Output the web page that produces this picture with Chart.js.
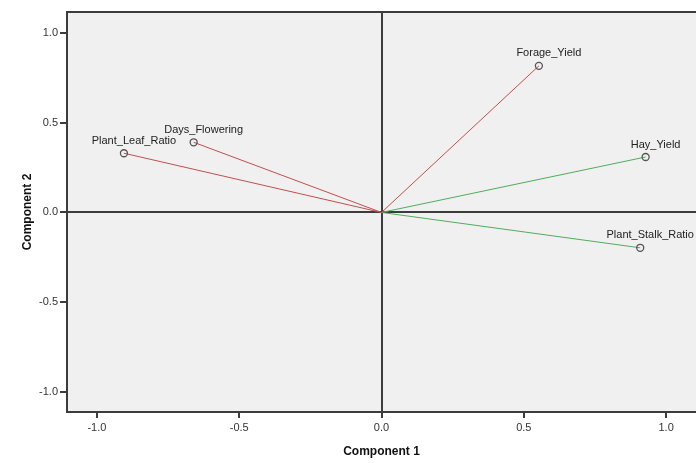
<!DOCTYPE html>
<html>
<head>
<meta charset="utf-8">
<script src="https://cdn.jsdelivr.net/npm/chart.js@4"></script>
<style>
  html, body { margin: 0; padding: 0; background: #fff; }
  #wrap { width: 696px; height: 463px; position: relative; }
</style>
</head>
<body>
<div id="wrap"><canvas id="chart"></canvas></div>
<script>
// loadings
const variables = ['Forage_Yield', 'Hay_Yield', 'Plant_Stalk_Ratio', 'Days_Flowering', 'Plant_Leaf_Ratio'];
const comp1 = [0.553, 0.928, 0.909, -0.660, -0.905];
const comp2 = [0.817, 0.309, -0.197, 0.391, 0.330];
const groups = ['red', 'green', 'green', 'red', 'red'];
const tickValues = [-1.0, -0.5, 0.0, 0.5, 1.0];

const lineColors = { red: '#c0504d', green: '#4fae5c' };
const axisColor = '#3c3c3c';

const datasets = variables.map((name, i) => ({
  label: name,
  data: [{ x: 0, y: 0 }, { x: comp1[i], y: comp2[i] }],
  showLine: true,
  borderColor: lineColors[groups[i]],
  borderWidth: 1,
  pointRadius: [0, 3.5],
  pointBorderColor: '#555',
  pointBorderWidth: 1.3,
  pointBackgroundColor: 'rgba(0,0,0,0)',
}));

// grey plot background and the frame round it
const plotFrame = {
  id: 'plotFrame',
  beforeDraw(chart) {
    const { ctx, chartArea: a } = chart;
    ctx.save();
    ctx.fillStyle = '#f0f0f0';
    ctx.fillRect(a.left, a.top, a.right - a.left, a.bottom - a.top);
    ctx.restore();
  },
  afterDraw(chart) {
    const { ctx, chartArea: a } = chart;
    ctx.save();
    ctx.strokeStyle = axisColor;
    ctx.lineWidth = 2;
    ctx.beginPath();
    ctx.moveTo(a.right, a.top);
    ctx.lineTo(a.left, a.top);
    ctx.lineTo(a.left, a.bottom);
    ctx.lineTo(a.right, a.bottom);
    ctx.stroke();
    ctx.restore();
  },
};

// variable names above each point
const pointLabels = {
  id: 'pointLabels',
  afterDatasetsDraw(chart) {
    const { ctx } = chart;
    ctx.save();
    ctx.font = '11px "Liberation Sans", Arial, sans-serif';
    ctx.fillStyle = '#222';
    ctx.textAlign = 'center';
    ctx.textBaseline = 'bottom';
    chart.data.datasets.forEach((ds, i) => {
      const pt = chart.getDatasetMeta(i).data[1];
      ctx.fillText(ds.label, pt.x + 10, pt.y - 7);
    });
    ctx.restore();
  },
};

const zeroLine = (c) => (c.tick && c.tick.value === 0 ? axisColor : 'rgba(0,0,0,0)');
const tickFont = { family: '"Liberation Sans", Arial, sans-serif', size: 11 };
const titleFont = { family: '"Liberation Sans", Arial, sans-serif', size: 12, weight: 'bold' };

new Chart(document.getElementById('chart'), {
  type: 'scatter',
  data: { datasets },
  plugins: [plotFrame, pointLabels],
  options: {
    responsive: true,
    maintainAspectRatio: false,
    animation: false,
    layout: { autoPadding: false, padding: { top: 12, right: 0, left: 0, bottom: 0 } },
    plugins: {
      legend: { display: false },
      tooltip: { enabled: false },
    },
    scales: {
      x: {
        type: 'linear',
        min: -1.105,
        max: 1.105,
        afterBuildTicks: (s) => { s.ticks = tickValues.map((v) => ({ value: v })); },
        afterFit: (s) => { s.height = 51; },
        grid: { color: zeroLine, lineWidth: 2, tickColor: axisColor, tickLength: 6, tickWidth: 2 },
        border: { display: false },
        ticks: { color: '#333', font: tickFont, padding: 3, callback: (v) => v.toFixed(1) },
        title: { display: true, text: 'Component 1', color: '#111', font: titleFont, padding: { top: 8 } },
      },
      y: {
        type: 'linear',
        min: -1.112,
        max: 1.117,
        afterBuildTicks: (s) => { s.ticks = tickValues.map((v) => ({ value: v })); },
        afterFit: (s) => { s.width = 67; },
        grid: { color: zeroLine, lineWidth: 2, tickColor: axisColor, tickLength: 7, tickWidth: 2 },
        border: { display: false },
        ticks: { color: '#333', font: tickFont, padding: 2, callback: (v) => v.toFixed(1) },
        title: { display: true, text: 'Component 2', color: '#111', font: titleFont, padding: { top: 20, bottom: 4 } },
      },
    },
  },
});
</script>
</body>
</html>
